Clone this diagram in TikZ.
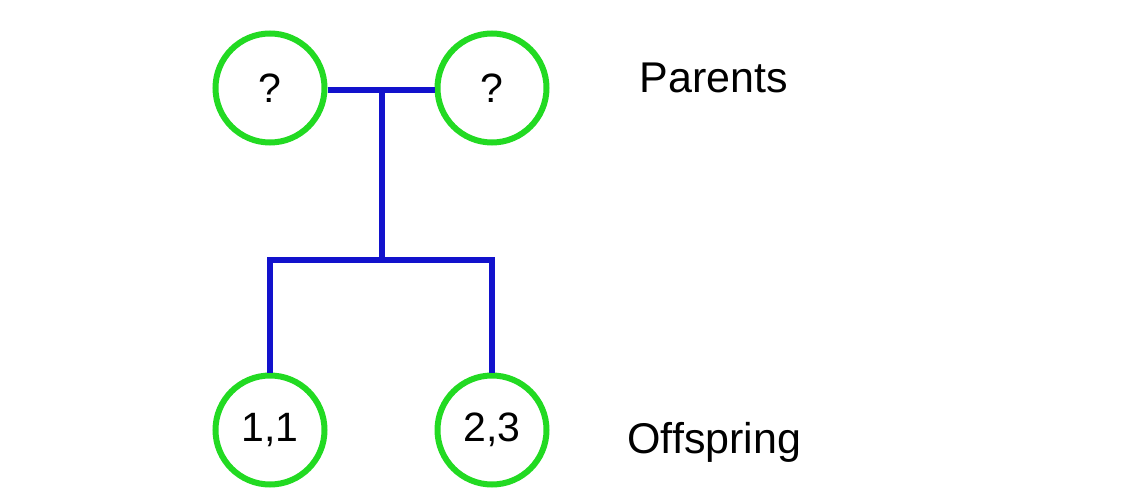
\documentclass[tikz,border=0pt]{standalone}
\usepackage{fontspec}
\setmainfont{Liberation Sans}
\definecolor{ringgreen}{RGB}{34,218,34}
\definecolor{lineblue}{RGB}{18,18,204}
\tikzset{
  person/.style={circle, draw=ringgreen, line width=6pt, minimum size=109pt,
    inner sep=0pt, font=\fontsize{41}{41}\selectfont},
  link/.style={draw=lineblue, line width=6pt},
  label/.style={anchor=west, font=\fontsize{43}{43}\selectfont}
}
\begin{document}
\begin{tikzpicture}[x=1pt, y=-1pt]
  \useasboundingbox[fill=white] (0,0) rectangle (1148,494);
  % parents
  \node[person] (p1) at (270,88) {?};
  \node[person] (p2) at (492,88) {?};
  % offspring
  \node[person] (c1) at (270,430) {1,1};
  \node[person] (c2) at (492,430) {2,3};
  % mating line and sibship
  \coordinate (mid) at (382,90);
  \coordinate (fork) at (382,260);
  \coordinate (lc) at (270,260);
  \coordinate (rc) at (492,260);
  \draw[link] (p1.east |- mid) -- (p2.west |- mid);
  \draw[link] (mid) -- (fork);
  \draw[link, line join=miter] (c1.north) -- (lc) -- (rc) -- (c2.north);
  % generation labels
  \node[label] (lp) at (636,78) {Parents};
  \node[label] (lo) at (624,442) {Offspring};
\end{tikzpicture}
\end{document}
